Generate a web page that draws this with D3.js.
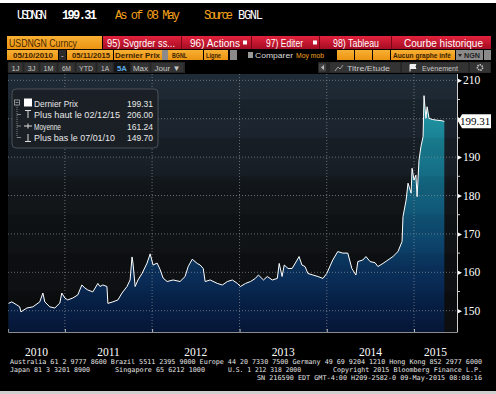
<!DOCTYPE html>
<html lang="fr">
<head>
<meta charset="UTF-8">
<title>USDNGN Curncy - Courbe historique</title>
<script src="https://cdn.jsdelivr.net/npm/d3@7/dist/d3.min.js"></script>
<style>
  body { margin: 0; background: #000; }
  svg { display: block; }
</style>
</head>
<body>
<script>

// Size of the picture
var w = 496, h = 394;

// Series (Dernier Prix, BGNL)
var dates = ["2010-05-10","2010-05-24","2010-06-14","2010-06-26","2010-07-01","2010-07-26","2010-08-20","2010-09-18",
  "2010-10-01","2010-10-09","2010-10-30","2010-11-20","2010-12-11","2010-12-19","2011-01-01","2011-01-13",
  "2011-02-03","2011-02-24","2011-03-13","2011-03-26","2011-04-07","2011-04-28","2011-05-19","2011-05-28",
  "2011-06-09","2011-06-26","2011-06-30","2011-07-21","2011-08-11","2011-08-28","2011-09-18","2011-10-01",
  "2011-10-09","2011-10-13","2011-10-22","2011-11-03","2011-11-20","2011-12-11","2011-12-24","2012-01-05",
  "2012-01-22","2012-02-03","2012-02-16","2012-03-04","2012-03-29","2012-04-27","2012-05-18","2012-05-31",
  "2012-06-17","2012-07-08","2012-07-20","2012-08-02","2012-08-10","2012-08-31","2012-09-30","2012-10-21",
  "2012-11-11","2012-12-02","2012-12-23","2013-01-05","2013-01-26","2013-02-16","2013-03-08","2013-03-21",
  "2013-04-11","2013-04-27","2013-05-18","2013-06-08","2013-06-16","2013-06-28","2013-07-07","2013-07-23",
  "2013-08-09","2013-08-30","2013-09-07","2013-09-19","2013-10-02","2013-10-14","2013-11-04","2013-11-25",
  "2013-12-16","2014-01-01","2014-01-26","2014-02-16","2014-03-09","2014-03-30","2014-04-16","2014-05-03",
  "2014-05-11","2014-06-01","2014-06-14","2014-07-01","2014-07-22","2014-08-03","2014-08-24","2014-09-14",
  "2014-10-05","2014-10-26","2014-11-12","2014-11-16","2014-11-29","2014-12-07","2014-12-20","2014-12-24",
  "2015-01-01","2015-01-09","2015-01-14","2015-01-22","2015-01-30","2015-02-08","2015-02-10","2015-02-12",
  "2015-02-20","2015-02-25","2015-03-05","2015-03-18","2015-04-08","2015-04-24","2015-05-08"];
var prices = [151.9,152.3,151.5,151.0,149.7,150.7,151.0,152.3,
  154.6,152.3,151.0,150.7,152.0,154.6,153.3,152.8,
  153.3,154.1,156.7,155.9,155.4,154.9,157.1,156.3,
  156.7,156.3,151.9,152.3,152.8,154.6,156.3,158.0,
  164.0,162.4,156.3,158.0,159.7,162.4,164.8,161.9,
  162.4,160.8,158.5,157.6,158.0,157.6,158.9,161.5,
  163.4,162.3,161.9,161.0,157.6,158.0,157.1,156.7,
  157.6,158.0,157.1,156.3,157.1,157.6,158.4,159.3,
  158.0,158.9,158.0,158.4,162.3,158.9,161.9,161.0,
  161.0,163.2,164.1,161.9,161.5,159.7,159.3,158.9,
  158.4,159.7,163.2,165.4,165.0,165.0,161.0,159.3,
  162.8,163.2,164.1,162.8,162.5,161.5,162.3,163.2,
  164.1,165.4,168.0,174.5,178.8,183.2,180.6,187.1,
  184.0,185.3,179.7,189.2,192.7,195.3,200.5,206.0,
  200.1,203.1,200.1,199.8,199.6,199.5,199.31];

var yTicks = [150, 160, 170, 180, 190, 200, 210];
var yMinor = [155, 165, 175, 185, 195, 205];
var years = ["2010", "2011", "2012", "2013", "2014", "2015"];
var lastPrice = 199.31;

// Legend box
var legendLabels = ["Dernier Prix", "Plus haut le 02/12/15", "Moyenne", "Plus bas le 07/01/10"];
var legendValues = ["199.31", "206.00", "161.24", "149.70"];

// Footer text
var footer = [
  "Australia 61 2 9777 8600 Brazil 5511 2395 9000 Europe 44 20 7330 7500 Germany 49 69 9204 1210 Hong Kong 852 2977 6000",
  "Japan 81 3 3201 8900",
  "Singapore 65 6212 1000",
  "U.S. 1 212 318 2000",
  "Copyright 2015 Bloomberg Finance L.P.",
  "SN 216590 EDT  GMT-4:00 H209-2582-0 09-May-2015 08:08:16"
];

var parse = d3.timeParse("%Y-%m-%d");
var data = dates.map(function(d, i) { return { date: parse(d), value: prices[i] }; });

// plot box
var pl = 8, pr = 457, pt = 74, pb = 332;
var x = d3.scaleTime().domain([parse("2010-05-08"), parse("2015-06-30")]).range([pl, pr]);
var y = d3.scaleLinear().domain([150, 210]).range([310.7, 80.3]);

var svg = d3.select("body").append("svg").attr("width", w).attr("height", h)
  .style("background", "#000");

var defs = svg.append("defs");

// background gradient of the plot
var bg = defs.append("linearGradient").attr("id", "bgGrad").attr("x1", 0).attr("y1", 0).attr("x2", 0).attr("y2", 1);
bg.append("stop").attr("offset", 0).attr("stop-color", "#1f2b36");
bg.append("stop").attr("offset", 0.3).attr("stop-color", "#1a222b");
bg.append("stop").attr("offset", 0.5).attr("stop-color", "#121619");
bg.append("stop").attr("offset", 1).attr("stop-color", "#0c0d0f");

// area gradient, depends on the value
var ag = defs.append("linearGradient").attr("id", "areaGrad").attr("gradientUnits", "userSpaceOnUse")
  .attr("x1", 0).attr("x2", 0).attr("y1", y(206)).attr("y2", pb);
var aStops = [[206, "#23a2ad"], [195, "#1a8294"], [182, "#136580"], [170, "#0e4a70"], [160, "#0a2f5a"], [150, "#071e44"], [144.4, "#061636"]];
aStops.forEach(function(s) {
  ag.append("stop").attr("offset", (y(s[0]) - y(206)) / (pb - y(206))).attr("stop-color", s[1]);
});

defs.append("clipPath").attr("id", "plotClip").append("rect")
  .attr("x", pl).attr("y", pt).attr("width", pr - pl).attr("height", pb - pt);

// white frame at top and bottom
svg.append("rect").attr("x", 0).attr("y", 0).attr("width", w).attr("height", 3).attr("fill", "#fff");
svg.append("rect").attr("x", 0).attr("y", 391).attr("width", w).attr("height", 3).attr("fill", "#cfcfcf");

// ---- Header line ----
var head = svg.append("g").attr("font-family", "Liberation Mono, DejaVu Sans Mono, monospace").attr("font-size", "12px");
head.append("text").attr("x", 17).attr("y", 19).attr("fill", "#fff").attr("textLength", 30).text("USDNGN");
head.append("text").attr("x", 62).attr("y", 19).attr("fill", "#fff").attr("font-weight", "bold").attr("textLength", 35).text("199.31");
head.append("text").attr("x", 115).attr("y", 19).attr("fill", "#f4a11c").attr("textLength", 65).text("As of 08 May");
head.append("text").attr("x", 204).attr("y", 19).attr("fill", "#f4a11c").attr("textLength", 29).text("Source");
head.append("text").attr("x", 238).attr("y", 19).attr("fill", "#fff").attr("textLength", 25).text("BGNL");

// ---- Row 2 : ticker + red menu ----
var redG = defs.append("linearGradient").attr("id", "redGrad").attr("x1", 0).attr("y1", 0).attr("x2", 0).attr("y2", 1);
redG.append("stop").attr("offset", 0).attr("stop-color", "#e3223c");
redG.append("stop").attr("offset", 1).attr("stop-color", "#a50d24");
var orG = defs.append("linearGradient").attr("id", "orGrad").attr("x1", 0).attr("y1", 0).attr("x2", 0).attr("y2", 1);
orG.append("stop").attr("offset", 0).attr("stop-color", "#f8b034");
orG.append("stop").attr("offset", 1).attr("stop-color", "#ec9412");

// helper: a text squeezed to a given width
function label(g, tx, ty, txt, len, size, fill, weight) {
  return g.append("text").attr("x", tx).attr("y", ty).attr("font-size", size + "px")
    .attr("fill", fill).attr("font-weight", weight || "normal")
    .attr("textLength", len).attr("lengthAdjust", "spacingAndGlyphs").text(txt);
}

var menu = svg.append("g").attr("font-family", "Liberation Sans, Arial, sans-serif");
menu.append("rect").attr("x", 7).attr("y", 36).attr("width", 95).attr("height", 13).attr("fill", "url(#orGrad)");
label(menu, 9, 46.5, "USDNGN Curncy", 68, 10.5, "#4a2a00");
menu.append("rect").attr("x", 103).attr("y", 36).attr("width", 388).attr("height", 13).attr("fill", "url(#redGrad)");
[181, 251, 319, 391].forEach(function(sx) {
  menu.append("rect").attr("x", sx).attr("y", 36).attr("width", 1).attr("height", 13).attr("fill", "#7a0818");
});
var redItems = [[107, "95) Svgrder ss...", 68], [190, "96) Actions", 50], [266, "97) Editer", 37], [333, "98) Tableau", 46], [404, "Courbe historique", 79]];
redItems.forEach(function(r) {
  label(menu, r[0], 46.5, r[1], r[2], 10.5, "#fff");
});
[243, 313].forEach(function(bx) {
  menu.append("rect").attr("x", bx).attr("y", 40.5).attr("width", 4).attr("height", 4).attr("fill", "#fff");
});

// ---- Row 3 : fields ----
var fields = [[7, 51, "05/10/2010", 13, 40], [67, 46, "05/11/2015", 72, 38], [114, 48, "Dernier Prix", 115, 45], [168, 35, "BGNL", 172, 15], [204, 24, "Ligne", 206, 15]];
fields.forEach(function(f) {
  menu.append("rect").attr("x", f[0]).attr("y", 50).attr("width", f[1]).attr("height", 10).attr("fill", "url(#orGrad)");
  label(menu, f[3], 58.3, f[2], f[4], 8, "#3a2200", "bold");
});
menu.append("rect").attr("x", 59).attr("y", 50).attr("width", 7).attr("height", 10).attr("fill", "#2a2a2a");
menu.append("text").attr("x", 61).attr("y", 57.5).attr("font-size", "8px").attr("fill", "#ddd").text("-");
[[162, 6], [230, 7], [456, 27], [484, 7]].forEach(function(g) {
  menu.append("rect").attr("x", g[0]).attr("y", 50).attr("width", g[1]).attr("height", 10).attr("fill", "#8a8a8a");
});
menu.append("path").attr("d", "M458,54H462L460,57Z").attr("fill", "#222");
label(menu, 464, 58.3, "NGN", 16, 7.5, "#222", "bold");
menu.append("rect").attr("x", 248).attr("y", 52).attr("width", 5).attr("height", 6).attr("fill", "#999");
label(menu, 255, 58.3, "Comparer", 38, 8, "#ddd");
label(menu, 296, 58.3, "Moy mob", 28, 8, "#f4a11c");
[337, 355, 373].forEach(function(ox) {
  menu.append("rect").attr("x", ox).attr("y", 50).attr("width", 17).attr("height", 10).attr("fill", "url(#orGrad)");
});
menu.append("rect").attr("x", 391).attr("y", 50).attr("width", 64).attr("height", 10).attr("fill", "url(#orGrad)");
label(menu, 393, 58.3, "Aucun graphe infé", 58, 8, "#3a2200", "bold");

// ---- Row 4 : period buttons ----
menu.append("rect").attr("x", 8).attr("y", 62).attr("width", 177).attr("height", 11).attr("fill", "#2b2b2b");
var btns = [[8, "1J", 8], [24, "3J", 8], [40, "1M", 10], [58, "6M", 9], [76, "YTD", 14], [97, "1A", 8], [114, "5A", 10], [131, "Max", 15], [151, "Jour ▼", 26]];
btns.forEach(function(b, i) {
  var bw = (i < btns.length - 1 ? btns[i + 1][0] : 185) - b[0] - 1;
  menu.append("rect").attr("x", b[0]).attr("y", 62.5).attr("width", bw).attr("height", 10)
    .attr("fill", b[1] == "5A" ? "#161616" : "#333").attr("stroke", "#1c1c1c").attr("stroke-width", 0.5);
  label(menu, b[0] + (bw - b[2]) / 2, 70.8, b[1], b[2], 8, b[1] == "5A" ? "#5aaee8" : "#c8c8c8", b[1] == "5A" ? "bold" : "normal");
});
menu.append("rect").attr("x", 318).attr("y", 62).attr("width", 173).attr("height", 11).attr("fill", "#262626");
menu.append("rect").attr("x", 319).attr("y", 63.5).attr("width", 7).attr("height", 8).attr("fill", "#444");
menu.append("path").attr("d", "M324,65L321,67.5L324,70Z").attr("fill", "#bbb");
menu.append("rect").attr("x", 330).attr("y", 62.5).attr("width", 70).attr("height", 10).attr("fill", "#333");
menu.append("path").attr("d", "M335,71L338,67L340,69L343,65").attr("fill", "none").attr("stroke", "#bbb").attr("stroke-width", 0.8);
label(menu, 347, 70.8, "Titre/Etude", 43, 8, "#c8c8c8");
menu.append("rect").attr("x", 402).attr("y", 62.5).attr("width", 66).attr("height", 10).attr("fill", "#333");
menu.append("path").attr("d", "M410,64.5V71.5M410,64.5H416L415,66.5L416,68.5H410").attr("fill", "#eee").attr("stroke", "#eee").attr("stroke-width", 1);
label(menu, 422, 70.8, "Evènement", 36, 8, "#c8c8c8");
menu.append("rect").attr("x", 470).attr("y", 62.5).attr("width", 20).attr("height", 10).attr("fill", "#333");
menu.append("circle").attr("cx", 480).attr("cy", 67.5).attr("r", 2.6).attr("fill", "none").attr("stroke", "#ccc").attr("stroke-width", 1.6).attr("stroke-dasharray", "1.4,0.9");

// ---- Plot ----
svg.append("rect").attr("x", pl).attr("y", pt).attr("width", pr - pl).attr("height", pb - pt).attr("fill", "url(#bgGrad)");

// alternating faint bands
var bands = d3.range(145, 210, 5);
svg.append("g").attr("clip-path", "url(#plotClip)").selectAll("rect").data(bands).enter().append("rect")
  .attr("x", pl).attr("width", pr - pl)
  .attr("y", function(d) { return y(d + 5); })
  .attr("height", function(d) { return y(d) - y(d + 5); })
  .attr("fill", "#000")
  .attr("opacity", function(d, i) { return i % 2 ? 0.07 : 0; });

var plot = svg.append("g").attr("clip-path", "url(#plotClip)");

var area = d3.area()
  .x(function(d) { return x(d.date); })
  .y0(pb)
  .y1(function(d) { return y(d.value); });
plot.append("path").datum(data).attr("d", area).attr("fill", "url(#areaGrad)");

// faint stripes inside the area
plot.append("g").selectAll("rect").data(bands).enter().append("rect")
  .attr("x", pl).attr("width", pr - pl)
  .attr("y", function(d) { return y(d + 5); })
  .attr("height", function(d) { return y(d) - y(d + 5); })
  .attr("fill", "#000")
  .attr("opacity", function(d, i) { return i % 2 ? 0.05 : 0; });

// grid
var yearStarts = x.ticks(d3.timeYear);
plot.append("g").selectAll("line").data(yTicks).enter().append("line")
  .attr("x1", pl).attr("x2", pr)
  .attr("y1", function(d) { return y(d); }).attr("y2", function(d) { return y(d); })
  .attr("stroke", "#8a9098").attr("stroke-width", 1).attr("stroke-dasharray", "1,2").attr("opacity", 0.7);
plot.append("g").selectAll("line").data(yearStarts).enter().append("line")
  .attr("x1", function(d) { return x(d); }).attr("x2", function(d) { return x(d); })
  .attr("y1", pt).attr("y2", pb)
  .attr("stroke", "#8a9098").attr("stroke-width", 1).attr("stroke-dasharray", "1,2").attr("opacity", 0.7);

// price line
var line = d3.line()
  .x(function(d) { return x(d.date); })
  .y(function(d) { return y(d.value); });
plot.append("path").datum(data).attr("d", line).attr("fill", "none")
  .attr("stroke", "#fff").attr("stroke-width", 1).attr("stroke-linejoin", "round");

// bottom axis
var xAxis = d3.axisBottom(x).ticks(d3.timeYear).tickSize(-3).tickFormat("");
var gx = svg.append("g").attr("transform", "translate(0," + pb + ")").call(xAxis);
gx.select(".domain").attr("stroke", "#8c8c8c");
gx.selectAll(".tick line").attr("stroke", "#bbb");

// year labels centred on the visible part of each year
var dom = x.domain();
svg.append("g").selectAll("text").data(years).enter().append("text")
  .attr("x", function(d) {
    var a = new Date(+d, 0, 1), b = new Date(+d + 1, 0, 1);
    if (a < dom[0]) a = dom[0];
    if (b > dom[1]) b = dom[1];
    return (x(a) + x(b)) / 2;
  })
  .attr("y", 355.5)
  .attr("text-anchor", "middle")
  .attr("font-family", "Liberation Serif, serif")
  .attr("font-size", "11.5px")
  .attr("fill", "#fff")
  .text(function(d) { return d; });

// right axis (200 sits under the price tag, as on the screen)
var yAxis = d3.axisRight(y).tickValues(yTicks).tickSize(0).tickPadding(6).tickFormat(d3.format("d"));
var gy = svg.append("g").attr("transform", "translate(" + pr + ",0)").call(yAxis);
gy.select(".domain").remove();
gy.selectAll("text").attr("fill", "#fff").attr("font-family", "Liberation Serif, serif").attr("font-size", "11.5px");
gy.selectAll(".tick").filter(function(d) { return Math.abs(y(d) - y(lastPrice)) < 10; }).select("text").remove();
gy.selectAll(".tick").append("path").attr("d", "M0,-2.5L5,0L0,2.5Z").attr("fill", "#fff");
svg.append("line").attr("x1", pr + 0.5).attr("x2", pr + 0.5).attr("y1", pt).attr("y2", pb).attr("stroke", "#cfcfcf");
svg.append("g").selectAll("line").data(yMinor).enter().append("line")
  .attr("x1", pr).attr("x2", pr + 3)
  .attr("y1", function(d) { return y(d); }).attr("y2", function(d) { return y(d); })
  .attr("stroke", "#cfcfcf");

// last price tag
var ly = y(lastPrice);
svg.append("path").attr("d", "M" + (pr + 1) + "," + ly + "L" + (pr + 5) + "," + (ly - 7) + "H491V" + (ly + 7) + "H" + (pr + 5) + "Z")
  .attr("fill", "#fff");
svg.append("text").attr("x", 475).attr("y", ly + 4).attr("text-anchor", "middle")
  .attr("font-family", "Liberation Serif, serif").attr("font-size", "11px").attr("fill", "#000").text(lastPrice.toFixed(2));

// ---- Legend ----
var lg = svg.append("g").attr("font-family", "Liberation Sans, Arial, sans-serif");
lg.append("rect").attr("x", 12).attr("y", 89).attr("width", 146).attr("height", 59).attr("rx", 4)
  .attr("fill", "#1a1f25").attr("fill-opacity", 0.92).attr("stroke", "#4a5057");
var rowY = [103, 114.5, 126, 137.5];
var labLen = [44, 86, 27, 81];
lg.append("rect").attr("x", 14.5).attr("y", 100).attr("width", 5).attr("height", 5).attr("fill", "none").attr("stroke", "#aaa").attr("stroke-width", 0.8);
lg.append("line").attr("x1", 15.5).attr("x2", 18.5).attr("y1", 102.5).attr("y2", 102.5).attr("stroke", "#aaa").attr("stroke-width", 0.8);
lg.append("line").attr("x1", 17).attr("x2", 17).attr("y1", 105).attr("y2", rowY[3]).attr("stroke", "#999").attr("stroke-width", 0.8).attr("stroke-dasharray", "1,1");
rowY.slice(1).forEach(function(ry) {
  lg.append("line").attr("x1", 17).attr("x2", 21).attr("y1", ry).attr("y2", ry).attr("stroke", "#999").attr("stroke-width", 0.8);
});
lg.append("rect").attr("x", 24).attr("y", 98.5).attr("width", 8).attr("height", 8).attr("fill", "#fff");
// symbols for haut / moyenne / bas
lg.append("path").attr("d", "M25,110.5H31M28,110.5V118").attr("stroke", "#ddd").attr("fill", "none");
lg.append("path").attr("d", "M24,126H32M28,123.5V128.5").attr("stroke", "#ddd").attr("fill", "none");
lg.append("path").attr("d", "M25,141.5H31M28,134V141.5").attr("stroke", "#ddd").attr("fill", "none");
legendLabels.forEach(function(d, i) {
  label(lg, 34, rowY[i] + 3.5, d, labLen[i], 9.5, "#e8e8e8");
});
legendValues.forEach(function(d, i) {
  label(lg, 127, rowY[i] + 3.5, d, 26, 9.5, "#e8e8e8");
});

// ---- Footer ----
var ft = svg.append("g").attr("font-family", "DejaVu Sans Mono, monospace").attr("font-size", "6.7px").attr("fill", "#e6e6e6");
label(ft, 10, 364, footer[0], 472, 6.7, "#e6e6e6");
label(ft, 10, 371.5, footer[1], 80, 6.7, "#e6e6e6");
label(ft, 115, 371.5, footer[2], 90, 6.7, "#e6e6e6");
label(ft, 228, 371.5, footer[3], 73, 6.7, "#e6e6e6");
label(ft, 333, 371.5, footer[4], 149, 6.7, "#e6e6e6");
label(ft, 257, 379.5, footer[5], 225, 6.7, "#e6e6e6");

</script>
</body>
</html>
